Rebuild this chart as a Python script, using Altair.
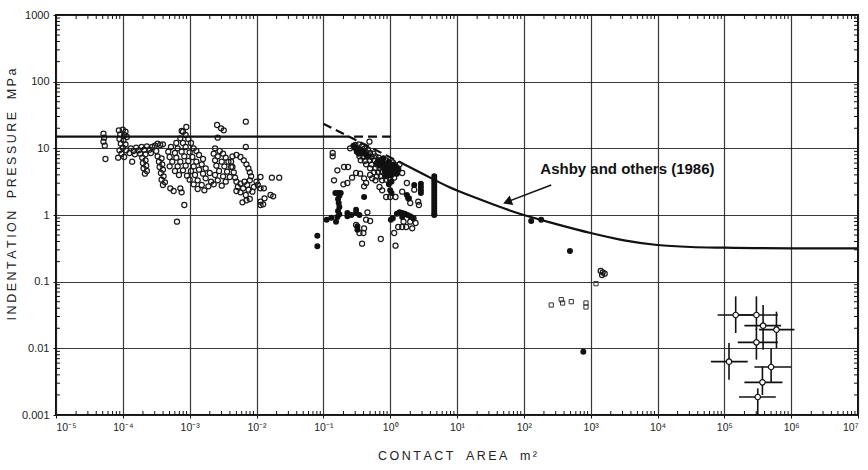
import altair as alt
import pandas as pd

# ---------- data (log10 exponents) ----------
# open circles, first cluster (contact area 1e-4.3 .. 1e-1.7 m2)
open_a = [
    (-4.29, 1.22), (-4.28, 1.16), (-4.29, 1.10), (-4.27, 1.04), (-4.26, 0.84),
    (-4.06, 1.27), (-4.00, 1.28), (-3.96, 1.25), (-4.04, 1.21), (-3.98, 1.20), (-3.94, 1.17),
    (-4.05, 1.14), (-3.99, 1.12), (-4.03, 1.07), (-3.96, 1.06), (-4.00, 1.01), (-4.05, 0.97),
    (-3.95, 0.97), (-4.02, 0.92), (-4.07, 0.86), (-3.98, 0.87), (-3.86, 0.80),
    (-3.88, 1.00), (-3.84, 0.96), (-3.80, 1.01), (-3.76, 0.97), (-3.72, 1.02), (-3.68, 0.98),
    (-3.64, 1.03), (-3.60, 0.98), (-3.56, 1.02), (-3.52, 1.04), (-3.48, 1.07), (-3.44, 1.05),
    (-3.40, 1.06), (-3.82, 0.91), (-3.74, 0.92), (-3.66, 0.91), (-3.58, 0.93), (-3.50, 0.96),
    (-3.90, 0.93),
    (-3.71, 0.86), (-3.66, 0.82), (-3.70, 0.78), (-3.65, 0.74), (-3.69, 0.70), (-3.64, 0.66),
    (-3.67, 0.62),
    (-3.48, 0.88), (-3.42, 0.85), (-3.46, 0.80), (-3.41, 0.76), (-3.45, 0.72), (-3.40, 0.68),
    (-3.43, 0.63), (-3.39, 0.58), (-3.42, 0.53), (-3.37, 0.49), (-3.40, 0.45),
    (-3.29, 0.40), (-3.24, 0.36), (-3.14, 0.40), (-3.12, 0.34), (-3.08, 0.15), (-3.19, -0.10),
    (-3.05, 1.32), (-3.10, 1.25), (-3.06, 1.20), (-3.14, 1.15), (-3.02, 1.14), (-3.20, 1.08),
    (-3.10, 1.08), (-2.98, 1.08), (-3.28, 1.02), (-3.18, 1.00), (-3.06, 1.02), (-2.94, 1.00),
    (-3.32, 0.95), (-3.22, 0.93), (-3.12, 0.95), (-3.00, 0.94), (-2.90, 0.96), (-3.30, 0.87),
    (-3.20, 0.86), (-3.08, 0.88), (-2.96, 0.87), (-2.86, 0.90), (-3.26, 0.80), (-3.14, 0.80),
    (-3.02, 0.81), (-2.90, 0.80), (-2.80, 0.84), (-3.30, 0.73), (-3.18, 0.73), (-3.06, 0.74),
    (-2.94, 0.73), (-2.82, 0.76), (-3.22, 0.66), (-3.10, 0.67), (-2.98, 0.66), (-2.86, 0.68),
    (-2.76, 0.70), (-3.16, 0.60), (-3.04, 0.59), (-2.92, 0.60), (-2.80, 0.62), (-2.70, 0.63),
    (-3.00, 0.53), (-2.88, 0.52), (-2.76, 0.55), (-2.68, 0.50), (-2.94, 0.46), (-2.82, 0.45),
    (-2.72, 0.43), (-2.88, 0.39), (-2.78, 0.37),
    (-2.62, 1.00), (-2.55, 0.96), (-2.64, 0.92), (-2.50, 0.92), (-2.58, 0.88), (-2.46, 0.86),
    (-2.62, 0.82), (-2.52, 0.80), (-2.42, 0.80), (-2.60, 0.74), (-2.48, 0.73), (-2.38, 0.72),
    (-2.56, 0.66), (-2.44, 0.65), (-2.62, 0.60), (-2.50, 0.58), (-2.40, 0.57), (-2.58, 0.52),
    (-2.46, 0.50), (-2.64, 0.46), (-2.52, 0.44),
    (-2.59, 1.35), (-2.53, 1.30), (-2.49, 1.27), (-2.16, 1.40), (-2.58, 1.16), (-2.16, 1.02),
    (-3.12, 1.26),
    (-2.36, 0.88), (-2.30, 0.90), (-2.24, 0.87), (-2.19, 0.82), (-2.15, 0.76), (-2.12, 0.70),
    (-2.10, 0.64), (-2.08, 0.58), (-2.10, 0.52), (-2.38, 0.80), (-2.36, 0.72), (-2.34, 0.64),
    (-2.32, 0.56), (-2.30, 0.50), (-2.24, 0.47), (-2.18, 0.50), (-2.14, 0.45), (-2.28, 0.42),
    (-2.20, 0.40), (-2.12, 0.38), (-2.04, 0.42), (-2.00, 0.50), (-1.98, 0.45), (-2.06, 0.35),
    (-2.24, 0.34), (-2.16, 0.30), (-2.30, 0.36),
    (-1.94, 0.57), (-1.77, 0.56), (-1.66, 0.56), (-1.94, 0.40), (-1.89, 0.40), (-1.79, 0.30),
    (-1.75, 0.28), (-1.88, 0.25), (-1.94, 0.20), (-1.94, 0.15), (-1.90, 0.16), (-2.21, 0.19),
    (-2.15, 0.22), (-2.10, 0.24),
]

# open circles, second cluster (contact area ~0.1 .. 3 m2) and a few further right
open_b = [
    (-0.52, 1.05), (-0.47, 1.06), (-0.42, 1.03), (-0.50, 1.00), (-0.45, 0.98), (-0.38, 1.00),
    (-0.33, 0.98), (-0.48, 0.94), (-0.42, 0.93), (-0.36, 0.94), (-0.30, 0.93), (-0.25, 0.92),
    (-0.46, 0.88), (-0.40, 0.87), (-0.34, 0.88), (-0.28, 0.87), (-0.22, 0.88), (-0.17, 0.86),
    (-0.44, 0.82), (-0.38, 0.81), (-0.30, 0.82), (-0.24, 0.82), (-0.18, 0.81), (-0.12, 0.83),
    (-0.06, 0.82), (-0.36, 0.76), (-0.28, 0.76), (-0.20, 0.76), (-0.14, 0.76), (-0.08, 0.77),
    (-0.02, 0.78), (0.04, 0.79), (-0.30, 0.70), (-0.22, 0.70), (-0.16, 0.70), (-0.10, 0.71),
    (-0.04, 0.72), (0.02, 0.73), (0.08, 0.74), (0.14, 0.76), (-0.24, 0.64), (-0.18, 0.64),
    (-0.12, 0.65), (-0.06, 0.66), (0.00, 0.66), (0.06, 0.68), (0.12, 0.70), (-0.20, 0.58),
    (-0.14, 0.58), (-0.08, 0.60), (-0.02, 0.60), (0.04, 0.62), (0.10, 0.63), (0.18, 0.63),
    (-0.12, 0.52), (-0.06, 0.53), (0.00, 0.54), (0.06, 0.56), (-0.31, 1.10), (-0.60, 1.00),
    (-0.86, 0.93), (-0.86, 0.88), (-0.69, 0.72), (-0.63, 0.72), (-0.79, 0.67), (-0.51, 0.63),
    (-0.84, 0.52), (-0.64, 0.48), (-0.70, 0.46), (-0.57, 0.56), (-0.39, 0.55), (-0.36, 0.48),
    (-0.39, 0.43), (-0.27, 0.55), (-0.22, 0.52), (-0.16, 0.42), (-0.12, 0.37), (-0.06, 0.27),
    (0.00, 0.27), (0.08, 0.27), (0.18, 0.35), (0.25, 0.48), (0.36, 0.38), (0.28, 0.25),
    (0.30, 0.18), (0.43, 0.15), (0.42, 0.20), (-0.30, 0.60), (-0.45, 0.62),
    (-0.34, 0.04), (-0.36, -0.07), (-0.30, -0.09), (-0.51, -0.15), (-0.39, -0.20),
    (-0.46, -0.27), (-0.40, -0.27), (-0.42, -0.43), (-0.14, -0.36), (0.06, -0.27),
    (0.08, -0.46), (0.18, -0.18), (0.24, -0.18), (0.33, -0.20), (0.38, -0.12), (0.30, -0.10),
    (0.12, -0.18), (0.20, -0.10), (0.35, -0.05),
    (3.15, -0.84), (3.18, -0.86), (3.21, -0.88), (3.17, -0.90),
]

# filled circles
filled = [
    (-1.09, -0.31), (-1.09, -0.47), (-0.95, -0.07), (-0.81, -0.10), (-0.88, -0.04),
    (-0.78, 0.33), (-0.76, 0.29), (-0.78, 0.24), (-0.77, 0.18), (-0.76, 0.12), (-0.78, 0.06),
    (-0.76, 0.01), (-0.79, -0.03), (-0.82, 0.33), (-0.74, 0.33),
    (-0.64, -0.02), (-0.64, 0.03), (-0.58, 0.00), (-0.51, 0.08), (-0.51, 0.03), (-0.49, -0.17),
    (-0.49, -0.22), (-0.46, 0.00), (-0.39, 0.27),
    (0.01, -0.07), (0.04, -0.05), (0.00, 0.37), (0.02, 0.33),
    (0.10, 0.02), (0.14, 0.04), (0.18, 0.03), (0.22, 0.02), (0.26, 0.00), (0.30, -0.02),
    (0.18, -0.03), (0.34, -0.04), (0.25, 0.30), (0.27, 0.25), (0.36, 0.45),
    (0.46, 0.47), (0.46, 0.42), (0.46, 0.37), (0.46, 0.33),
    (0.66, 0.58), (0.66, 0.54), (0.66, 0.50), (0.66, 0.46), (0.66, 0.42), (0.66, 0.38),
    (0.66, 0.34), (0.66, 0.30), (0.66, 0.26), (0.66, 0.22), (0.66, 0.18), (0.66, 0.14),
    (0.66, 0.10), (0.66, 0.06), (0.66, 0.02), (0.66, 0.00),
    (-0.50, 1.00), (-0.46, 0.97), (-0.10, 0.85), (-0.02, 0.80), (-0.06, 0.75), (0.04, 0.72),
    (0.00, 0.64), (-0.06, 0.58), (0.02, 0.50), (-0.02, 0.46), (0.08, 0.70), (0.12, 0.68),
    (-0.12, 0.78), (-0.16, 0.82), (0.06, 0.76),
    (-0.55, 1.04), (-0.52, 1.00), (-0.50, 0.95), (-0.47, 0.92), (-0.44, 0.98), (-0.40, 0.95),
    (-0.36, 0.90), (-0.32, 0.88), (-0.20, 0.78), (-0.15, 0.74), (-0.10, 0.72), (-0.05, 0.68),
    (0.00, 0.70), (0.05, 0.66), (0.10, 0.62), (-0.08, 0.64), (0.02, 0.60),
    (2.11, -0.09), (2.26, -0.07), (2.69, -0.54), (2.89, -2.05),
]

# small open squares
squares = [(3.08, -1.03), (2.41, -1.35), (2.56, -1.27), (2.58, -1.32), (2.71, -1.30),
           (2.93, -1.32), (2.93, -1.38)]

# field points with error bars (centre, x range, y range; log10)
err_lx = [5.17, 5.48, 5.58, 5.78, 5.48, 5.07, 5.70, 5.57, 5.50]
err_ly = [-1.50, -1.50, -1.66, -1.72, -1.91, -2.20, -2.28, -2.51, -2.73]
err_lx_lo = [4.90, 5.20, 5.30, 5.52, 5.20, 4.80, 5.45, 5.30, 5.22]
err_lx_hi = [5.45, 5.80, 5.85, 6.05, 5.80, 5.35, 6.00, 5.87, 5.77]
err_ly_lo = [-1.77, -1.72, -2.02, -2.00, -2.17, -2.47, -2.52, -2.70, -3.00]
err_ly_hi = [-1.22, -1.22, -1.35, -1.45, -1.70, -1.92, -2.00, -2.27, -2.60]

# Ashby and others (1986) curve
curve_lx = [0.13, 0.50, 0.88, 1.30, 1.70, 2.00, 2.50, 3.00, 3.50, 4.00, 4.50, 5.00, 6.00, 7.00]
curve_ly = [0.80, 0.61, 0.42, 0.25, 0.10, 0.00, -0.14, -0.27, -0.38, -0.45, -0.48, -0.49, -0.50, -0.50]
flat_pressure = 15.0          # MPa, horizontal limit
flat_solid_lx = [-5.0, -0.75]
flat_dash_lx = [-0.75, 0.05]
dash_diag_lx = [-1.00, 0.13]
dash_diag_ly = [1.37, 0.80]

annot_text = "Ashby and others (1986)"
annot_lx, annot_ly = 3.55, 0.69
arrow_lx = [2.41, 1.76]
arrow_ly = [0.45, 0.20]

x_title_words = ['CONTACT', 'AREA', 'm²']
y_title_words = ['INDENTATION', 'PRESSURE', 'MPa']
x_tick_exps = list(range(-5, 8))
x_tick_labels = ['10⁻⁵', '10⁻⁴', '10⁻³', '10⁻²', '10⁻¹', '10⁰', '10¹',
                 '10²', '10³', '10⁴', '10⁵', '10⁶', '10⁷']
y_tick_vals = [0.001, 0.01, 0.1, 1, 10, 100, 1000]
y_tick_labels = ['0.001', '0.01', '0.1', '1', '10', '100', '1000']


# letter-spaced title text (thin spaces between letters, wide gaps between words)
def spaced(words):
    return '\u2002\u2002'.join('\u2009'.join(w) for w in words)


# ---------- frames ----------
def pts(pairs):
    return pd.DataFrame({'x': [10 ** a for a, b in pairs], 'y': [10 ** b for a, b in pairs]})

df_open = pd.concat([pts(open_a), pts(open_b)], ignore_index=True)
df_fill = pts(filled)
df_sq = pts(squares)
df_err = pd.DataFrame({
    'x': [10 ** v for v in err_lx], 'y': [10 ** v for v in err_ly],
    'xlo': [10 ** v for v in err_lx_lo], 'xhi': [10 ** v for v in err_lx_hi],
    'ylo': [10 ** v for v in err_ly_lo], 'yhi': [10 ** v for v in err_ly_hi],
})
df_curve = pd.DataFrame({'x': [10 ** v for v in curve_lx], 'y': [10 ** v for v in curve_ly]})
df_flat_solid = pd.DataFrame({'x': [10 ** v for v in flat_solid_lx], 'y': [flat_pressure] * 2})
df_flat_dash = pd.DataFrame({'x': [10 ** v for v in flat_dash_lx], 'y': [flat_pressure] * 2})
df_diag = pd.DataFrame({'x': [10 ** v for v in dash_diag_lx], 'y': [10 ** v for v in dash_diag_ly]})
df_annot = pd.DataFrame({'x': [10 ** annot_lx], 'y': [10 ** annot_ly], 't': [annot_text]})
df_arrow = pd.DataFrame({'x': [10 ** v for v in arrow_lx], 'y': [10 ** v for v in arrow_ly]})
df_head = df_arrow.iloc[[1]]

x_minor = [m * 10.0 ** e for e in x_tick_exps[:-1] for m in range(2, 10)]
y_minor = [m * 10.0 ** e for e in range(-3, 3) for m in range(2, 10)]
df_xminor = pd.DataFrame({'x': x_minor})
df_yminor = pd.DataFrame({'y': y_minor})

# ---------- scales / axes ----------
x_vals = [10.0 ** e for e in x_tick_exps]
x_expr = ''
for e, lab in zip(x_tick_exps[:-1], x_tick_labels[:-1]):
    x_expr += f"datum.value < {10.0 ** e * 3.0} ? '{lab}' : "
x_expr += f"'{x_tick_labels[-1]}'"
y_expr = ''
for v, lab in zip(y_tick_vals[:-1], y_tick_labels[:-1]):
    y_expr += f"datum.value < {v * 3.0} ? '{lab}' : "
y_expr += f"'{y_tick_labels[-1]}'"

xs = alt.Scale(type='log', domain=[1e-5, 1e7], nice=False)
ys = alt.Scale(type='log', domain=[1e-3, 1e3], nice=False)
x_axis = alt.Axis(
    values=x_vals, labelExpr=x_expr, title=spaced(x_title_words), grid=True,
    tickSize=3, labelPadding=4, labelFontSize=10.5, titleFontSize=12.5, titlePadding=17)
y_axis = alt.Axis(
    values=y_tick_vals, labelExpr=y_expr, title=spaced(y_title_words), grid=True,
    tickSize=3, labelPadding=4, labelFontSize=11, titleFontSize=12.5,
    titleX=-38, titleY=179)


def X(f='x'):
    return alt.X(f'{f}:Q', scale=xs, axis=x_axis)


def Y(f='y'):
    return alt.Y(f'{f}:Q', scale=ys, axis=y_axis)


base_open = alt.Chart(df_open).mark_point(
    shape='circle', filled=False, stroke='#1a1a1a', strokeWidth=1.2, size=26, opacity=1
).encode(x=X(), y=Y())
base_fill = alt.Chart(df_fill).mark_point(
    shape='circle', filled=True, fill='#111', stroke='#111', size=16, opacity=1
).encode(x=X(), y=Y())
base_sq = alt.Chart(df_sq).mark_point(
    shape='square', filled=False, stroke='#333', strokeWidth=1, size=18, opacity=1
).encode(x=X(), y=Y())

err_h = alt.Chart(df_err).mark_rule(color='#111', strokeWidth=1.6).encode(
    x=X('xlo'), x2=alt.X2('xhi:Q'), y=Y())
err_v = alt.Chart(df_err).mark_rule(color='#111', strokeWidth=1.6).encode(
    x=X(), y=Y('ylo'), y2=alt.Y2('yhi:Q'))
err_pt = alt.Chart(df_err).mark_point(
    shape='circle', filled=True, fill='white', stroke='#111', strokeWidth=1.2, size=30, opacity=1
).encode(x=X(), y=Y())

curve = alt.Chart(df_curve).mark_line(color='#111', strokeWidth=2.2, interpolate='monotone').encode(x=X(), y=Y())
flat_solid = alt.Chart(df_flat_solid).mark_line(color='#111', strokeWidth=2.2).encode(x=X(), y=Y())
flat_dash = alt.Chart(df_flat_dash).mark_line(color='#111', strokeWidth=2.2, strokeDash=[9, 5]).encode(x=X(), y=Y())
diag = alt.Chart(df_diag).mark_line(color='#111', strokeWidth=2.2, strokeDash=[9, 5]).encode(x=X(), y=Y())

annot = alt.Chart(df_annot).mark_text(
    font='Liberation Sans', fontWeight='bold', fontSize=15, color='#111', align='center', baseline='middle'
).encode(x=X(), y=Y(), text='t:N')
arrow = alt.Chart(df_arrow).mark_line(color='#111', strokeWidth=1.4).encode(x=X(), y=Y())
head = alt.Chart(df_head).mark_point(
    shape='triangle-up', filled=True, fill='#111', stroke='#111', size=45, angle=249, opacity=1
).encode(x=X(), y=Y())

xminor_b = alt.Chart(df_xminor).mark_rule(color='#111', strokeWidth=1).encode(
    x=X(), y=alt.value(400), y2=alt.value(396))
xminor_t = alt.Chart(df_xminor).mark_rule(color='#111', strokeWidth=1).encode(
    x=X(), y=alt.value(0), y2=alt.value(4))
yminor_l = alt.Chart(df_yminor).mark_rule(color='#111', strokeWidth=1).encode(
    y=Y(), x=alt.value(0), x2=alt.value(4))
yminor_r = alt.Chart(df_yminor).mark_rule(color='#111', strokeWidth=1).encode(
    y=Y(), x=alt.value(802), x2=alt.value(798))

chart = alt.layer(
    base_open, xminor_b, xminor_t, yminor_l, yminor_r,
    flat_solid, flat_dash, diag, curve,
    base_sq, base_fill, err_h, err_v, err_pt, annot, arrow, head,
).properties(
    width=802, height=400,
    autosize=alt.AutoSizeParams(type='none'),
    padding={'left': 56, 'top': 15, 'right': 10, 'bottom': 55},
    background='white',
).configure_view(
    stroke='#111', strokeWidth=2
).configure_axis(
    gridColor='#222', gridWidth=1.2, gridOpacity=0.9, domain=False, tickColor='#111',
    labelFont='Liberation Sans', labelColor='#222', titleFont='Liberation Sans',
    titleFontWeight='normal', titleColor='#222'
)

chart.save("out.html", embed_options={"renderer": "svg", "actions": False})
